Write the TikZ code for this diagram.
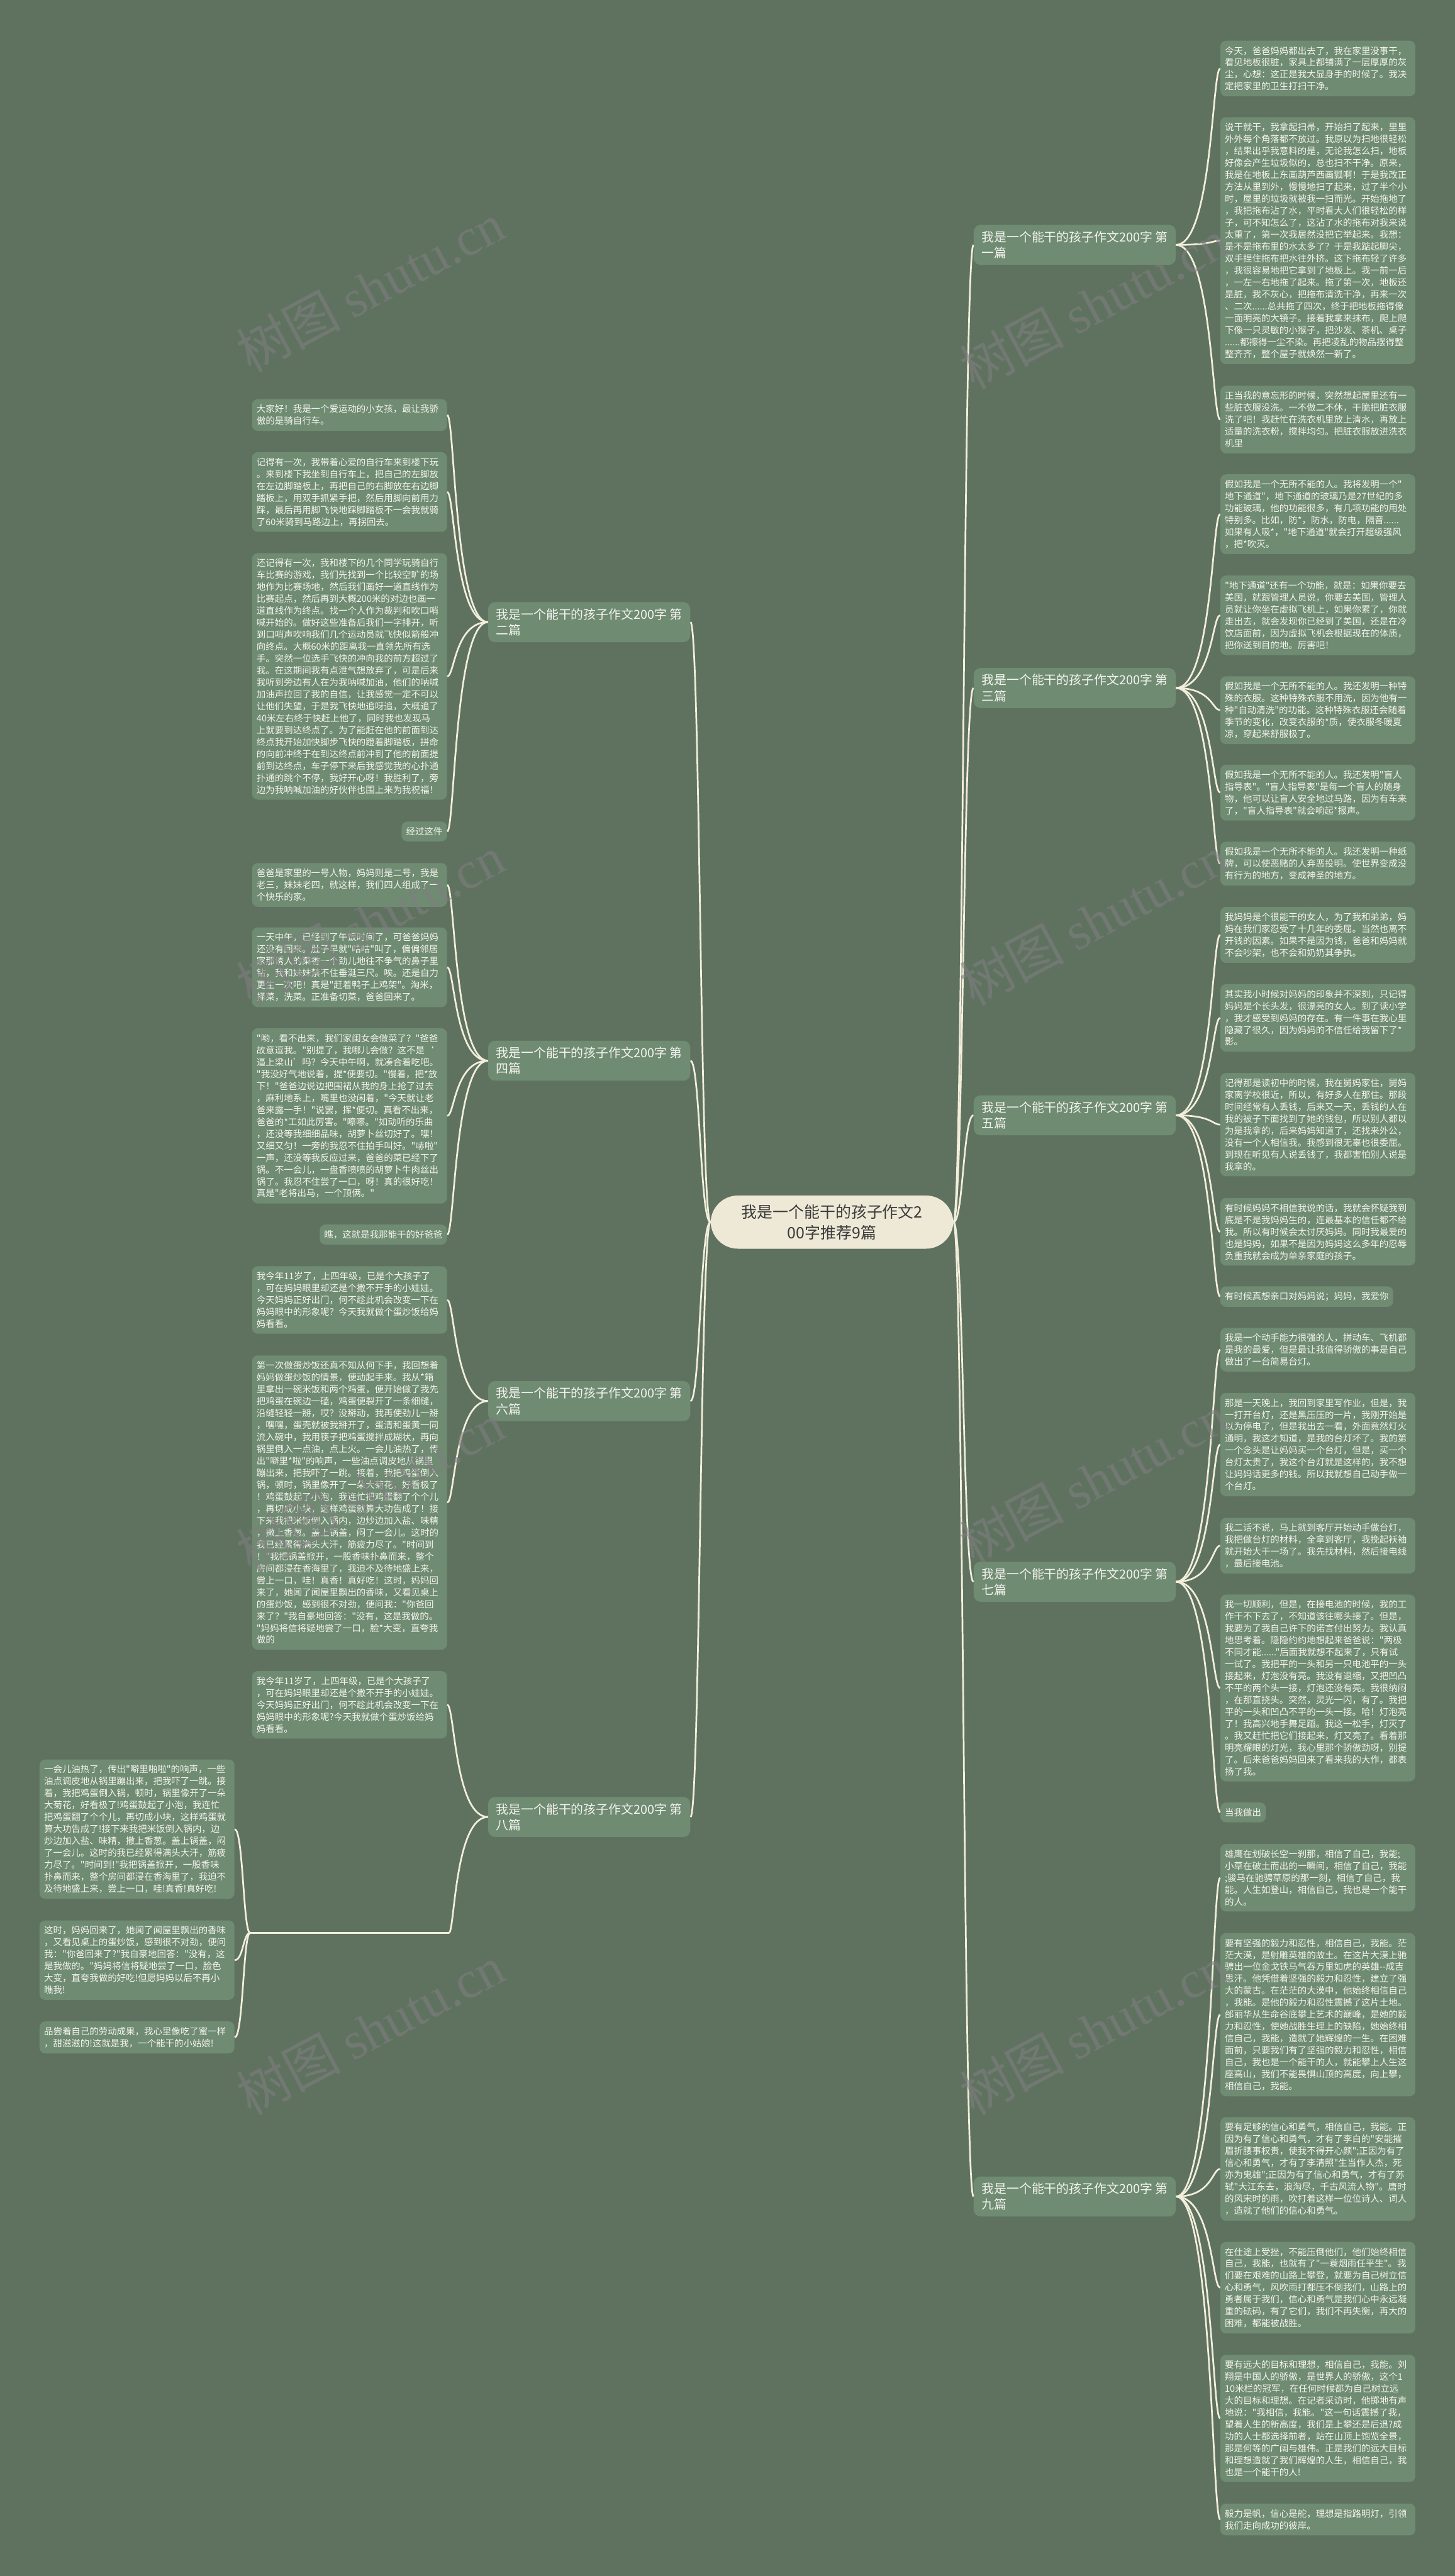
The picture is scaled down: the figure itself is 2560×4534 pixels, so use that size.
\documentclass[tikz,border=0pt]{standalone}
\usepackage{fontspec}
\newfontfamily\cjk{Noto Sans CJK SC}
\newfontfamily\wmlat{Liberation Serif}
\definecolor{bgc}{HTML}{5F7260}
\definecolor{leafc}{HTML}{6F8B72}
\definecolor{txtc}{HTML}{F4F4EE}
\definecolor{linec}{HTML}{F2EEDB}
\definecolor{rootc}{HTML}{EEE9D6}
\definecolor{roottxt}{HTML}{3A3A3A}
\definecolor{wmc}{HTML}{7E7E7E}
\newcommand\leaffont{\cjk\fontsize{8pt}{10.5pt}\selectfont}
\newcommand\branchfont{\cjk\fontsize{11pt}{14pt}\selectfont}
\newcommand\rootfont{\cjk\fontsize{13.8pt}{18pt}\selectfont}
\begin{document}
\begin{tikzpicture}[x=0.5pt,y=-0.5pt,
  leafR/.style={fill=leafc, rounded corners=5pt, text=txtc, font=\leaffont, align=left, text width=163.5pt, inner xsep=4pt, inner ysep=5pt, anchor=west},
  leafL/.style={leafR, anchor=east},
  tagR/.style={fill=leafc, rounded corners=5pt, text=txtc, font=\leaffont, inner xsep=4pt, inner ysep=5pt, anchor=west},
  tagL/.style={tagR, anchor=east},
  branchR/.style={fill=leafc, rounded corners=6pt, text=txtc, font=\branchfont, align=left, inner xsep=7pt, inner ysep=5.5pt, anchor=west},
  branchL/.style={branchR, anchor=east},
  rootnode/.style={fill=rootc, rounded corners=24pt, text=roottxt, font=\rootfont, align=center, inner xsep=27pt, inner ysep=8pt},
  conn/.style={draw=linec, line width=1.5pt},
  wm/.style={text=wmc, opacity=0.6, rotate=28, font=\cjk\fontsize{46pt}{50pt}\selectfont}
]
\useasboundingbox (0,0) rectangle (2560,4534);
\fill[bgc] (0,0) rectangle (2560,4534);

% helper coordinates for connector bends
\coordinate (rx) at (2133,0);
\coordinate (lx) at (800,0);
\coordinate (llx) at (428,0);
\coordinate (crx) at (1695,0);
\coordinate (clx) at (1232,0);

% root
\node[rootnode] (root) at (1464,2151) {我是一个能干的孩子作文2\\00字推荐9篇};

% branches
\node[branchR] (b1) at (1713,431) {我是一个能干的孩子作文200字 第\\一篇};
\node[branchR] (b3) at (1713,1211) {我是一个能干的孩子作文200字 第\\三篇};
\node[branchR] (b5) at (1713,1963) {我是一个能干的孩子作文200字 第\\五篇};
\node[branchR] (b7) at (1713,2784) {我是一个能干的孩子作文200字 第\\七篇};
\node[branchR] (b9) at (1713,3866) {我是一个能干的孩子作文200字 第\\九篇};
\node[branchL] (b2) at (1215,1095) {我是一个能干的孩子作文200字 第\\二篇};
\node[branchL] (b4) at (1215,1867) {我是一个能干的孩子作文200字 第\\四篇};
\node[branchL] (b6) at (1215,2466) {我是一个能干的孩子作文200字 第\\六篇};
\node[branchL] (b8) at (1215,3198) {我是一个能干的孩子作文200字 第\\八篇};

% ---------- 第一篇 ----------
\node[leafR] (r1a) at (2147,120.6) {今天，爸爸妈妈都出去了，我在家里没事干，\\看见地板很脏，家具上都铺满了一层厚厚的灰\\尘，心想：这正是我大显身手的时候了。我决\\定把家里的卫生打扫干净。};
\node[leafR] (r1b) at (2147,423.5) {说干就干，我拿起扫帚，开始扫了起来，里里\\外外每个角落都不放过。我原以为扫地很轻松\\，结果出乎我意料的是，无论我怎么扫，地板\\好像会产生垃圾似的，总也扫不干净。原来，\\我是在地板上东画葫芦西画瓢啊！于是我改正\\方法从里到外，慢慢地扫了起来，过了半个小\\时，屋里的垃圾就被我一扫而光。开始拖地了\\，我把拖布沾了水，平时看大人们很轻松的样\\子，可不知怎么了，这沾了水的拖布对我来说\\太重了，第一次我居然没把它举起来。我想：\\是不是拖布里的水太多了？于是我踮起脚尖，\\双手捏住拖布把水往外挤。这下拖布轻了许多\\，我很容易地把它拿到了地板上。我一前一后\\，一左一右地拖了起来。拖了第一次，地板还\\是脏，我不灰心，把拖布清洗干净，再来一次\\、二次......总共拖了四次，终于把地板拖得像\\一面明亮的大镜子。接着我拿来抹布，爬上爬\\下像一只灵敏的小猴子，把沙发、茶机、桌子\\......都擦得一尘不染。再把凌乱的物品摆得整\\整齐齐，整个屋子就焕然一新了。};
\node[leafR] (r1c) at (2147,738.5) {正当我的意忘形的时候，突然想起屋里还有一\\些脏衣服没洗。一不做二不休，干脆把脏衣服\\洗了吧！我赶忙在洗衣机里放上清水，再放上\\适量的洗衣粉，搅拌均匀。把脏衣服放进洗衣\\机里};

% ---------- 第三篇 ----------
\node[leafR] (r3a) at (2147,905) {假如我是一个无所不能的人。我将发明一个"\\地下通道"，地下通道的玻璃乃是27世纪的多\\功能玻璃，他的功能很多，有几项功能的用处\\特别多。比如，防*，防水，防电，隔音......\\如果有人吸*，"地下通道"就会打开超级强风\\，把*吹灭。};
\node[leafR] (r3b) at (2147,1083) {"地下通道"还有一个功能，就是：如果你要去\\美国，就跟管理人员说，你要去美国，管理人\\员就让你坐在虚拟飞机上，如果你累了，你就\\走出去，就会发现你已经到了美国，还是在冷\\饮店面前，因为虚拟飞机会根据现在的体质，\\把你送到目的地。厉害吧！};
\node[leafR] (r3c) at (2147,1250) {假如我是一个无所不能的人。我还发明一种特\\殊的衣服。这种特殊衣服不用洗，因为他有一\\种"自动清洗"的功能。这种特殊衣服还会随着\\季节的变化，改变衣服的*质，使衣服冬暖夏\\凉，穿起来舒服极了。};
\node[leafR] (r3d) at (2147,1395) {假如我是一个无所不能的人。我还发明"盲人\\指导表"。"盲人指导表"是每一个盲人的随身\\物，他可以让盲人安全地过马路，因为有车来\\了，"盲人指导表"就会响起*报声。};
\node[leafR] (r3e) at (2147,1520) {假如我是一个无所不能的人。我还发明一种纸\\牌，可以使恶赌的人弃恶投明。使世界变成没\\有行为的地方，变成神圣的地方。};

% ---------- 第五篇 ----------
\node[leafR] (r5a) at (2147,1645.5) {我妈妈是个很能干的女人，为了我和弟弟，妈\\妈在我们家忍受了十几年的委屈。当然也离不\\开钱的因素。如果不是因为钱，爸爸和妈妈就\\不会吵架，也不会和奶奶其争执。};
\node[leafR] (r5b) at (2147,1791.5) {其实我小时候对妈妈的印象并不深刻，只记得\\妈妈是个长头发，很漂亮的女人。到了读小学\\，我才感受到妈妈的存在。有一件事在我心里\\隐藏了很久，因为妈妈的不信任给我留下了*\\影。};
\node[leafR] (r5c) at (2147,1979.5) {记得那是读初中的时候，我在舅妈家住，舅妈\\家离学校很近，所以，有好多人在那住。那段\\时间经常有人丢钱，后来又一天，丢钱的人在\\我的被子下面找到了她的钱包，所以别人都以\\为是我拿的，后来妈妈知道了，还找来外公，\\没有一个人相信我。我感到很无辜也很委屈。\\到现在听见有人说丢钱了，我都害怕别人说是\\我拿的。};
\node[leafR] (r5d) at (2147,2168) {有时候妈妈不相信我说的话，我就会怀疑我到\\底是不是我妈妈生的，连最基本的信任都不给\\我。所以有时候会太讨厌妈妈。同时我最爱的\\也是妈妈，如果不是因为妈妈这么多年的忍辱\\负重我就会成为单亲家庭的孩子。};
\node[tagR] (r5e) at (2147,2282) {有时候真想亲口对妈妈说；妈妈，我爱你};

% ---------- 第七篇 ----------
\node[leafR] (r7a) at (2147,2375.5) {我是一个动手能力很强的人，拼动车、飞机都\\是我的最爱，但是最让我值得骄傲的事是自己\\做出了一台简易台灯。};
\node[leafR] (r7b) at (2147,2542.5) {那是一天晚上，我回到家里写作业，但是，我\\一打开台灯，还是黑压压的一片，我刚开始是\\以为停电了，但是我出去一看，外面竟然灯火\\通明，我这才知道，是我的台灯坏了。我的第\\一个念头是让妈妈买一个台灯，但是，买一个\\台灯太贵了，我这个台灯就是这样的，我不想\\让妈妈话更多的钱。所以我就想自己动手做一\\个台灯。};
\node[leafR] (r7c) at (2147,2720.5) {我二话不说，马上就到客厅开始动手做台灯，\\我把做台灯的材料，全拿到客厅，我挽起袄袖\\就开始大干一场了。我先找材料，然后接电线\\，最后接电池。};
\node[leafR] (r7d) at (2147,2971) {我一切顺利，但是，在接电池的时候，我的工\\作干不下去了，不知道该往哪头接了。但是，\\我要为了我自己许下的诺言付出努力。我认真\\地思考着。隐隐约约地想起来爸爸说："两极\\不同才能......"后面我就想不起来了，只有试\\一试了。我把平的一头和另一只电池平的一头\\接起来，灯泡没有亮。我没有退缩，又把凹凸\\不平的两个头一接，灯泡还没有亮。我很纳闷\\，在那直挠头。突然，灵光一闪，有了。我把\\平的一头和凹凸不平的一头一接。哈！灯泡亮\\了！我高兴地手舞足蹈。我这一松手，灯灭了\\。我又赶忙把它们接起来，灯又亮了。看着那\\明亮耀眼的灯光，我心里那个骄傲劲呀，别提\\了。后来爸爸妈妈回来了看来我的大作，都表\\扬了我。};
\node[tagR] (r7e) at (2147,3190) {当我做出};

% ---------- 第九篇 ----------
\node[leafR] (r9a) at (2147,3305) {雄鹰在划破长空一刹那，相信了自己，我能;\\小草在破土而出的一瞬间，相信了自己，我能\\;骏马在驰骋草原的那一刻，相信了自己，我\\能。人生如登山，相信自己，我也是一个能干\\的人。};
\node[leafR] (r9b) at (2147,3546) {要有坚强的毅力和忍性，相信自己，我能。茫\\茫大漠，是射雕英雄的故土。在这片大漠上驰\\骋出一位金戈铁马气吞万里如虎的英雄-{}-成吉\\思汗。他凭借着坚强的毅力和忍性，建立了强\\大的蒙古。在茫茫的大漠中，他始终相信自己\\，我能。是他的毅力和忍性震撼了这片土地。\\邰丽华从生命谷底攀上艺术的巅峰，是她的毅\\力和忍性，使她战胜生理上的缺陷，她始终相\\信自己，我能，造就了她辉煌的一生。在困难\\面前，只要我们有了坚强的毅力和忍性，相信\\自己，我也是一个能干的人，就能攀上人生这\\座高山，我们不能畏惧山顶的高度，向上攀，\\相信自己，我能。};
\node[leafR] (r9c) at (2147,3817.5) {要有足够的信心和勇气，相信自己，我能。正\\因为有了信心和勇气，才有了李白的"安能摧\\眉折腰事权贵，使我不得开心颜";正因为有了\\信心和勇气，才有了李清照"生当作人杰，死\\亦为鬼雄";正因为有了信心和勇气，才有了苏\\轼"大江东去，浪淘尽，千古风流人物"。唐时\\的风宋时的雨，吹打着这样一位位诗人、词人\\，造就了他们的信心和勇气。};
\node[leafR] (r9d) at (2147,4026.5) {在仕途上受挫，不能压倒他们，他们始终相信\\自己，我能，也就有了"一蓑烟雨任平生"。我\\们要在艰难的山路上攀登，就要为自己树立信\\心和勇气，风吹雨打都压不倒我们，山路上的\\勇者属于我们，信心和勇气是我们心中永远凝\\重的砝码，有了它们，我们不再失衡，再大的\\困难，都能被战胜。};
\node[leafR] (r9e) at (2147,4256.5) {要有远大的目标和理想，相信自己，我能。刘\\翔是中国人的骄傲，是世界人的骄傲，这个1\\10米栏的冠军，在任何时候都为自己树立远\\大的目标和理想。在记者采访时，他掷地有声\\地说："我相信，我能。"这一句话震撼了我，\\望着人生的新高度，我们是上攀还是后退?成\\功的人士都选择前者，站在山顶上饱览全景，\\那是何等的广阔与雄伟。正是我们的远大目标\\和理想造就了我们辉煌的人生，相信自己，我\\也是一个能干的人!};
\node[leafR] (r9f) at (2147,4434.5) {毅力是帆，信心是舵，理想是指路明灯，引领\\我们走向成功的彼岸。};

% ---------- 第二篇 ----------
\node[leafL] (l2a) at (787,730.5) {大家好！我是一个爱运动的小女孩，最让我骄\\傲的是骑自行车。};
\node[leafL] (l2b) at (787,866) {记得有一次，我带着心爱的自行车来到楼下玩\\。来到楼下我坐到自行车上，把自己的左脚放\\在左边脚踏板上，再把自己的右脚放在右边脚\\踏板上，用双手抓紧手把，然后用脚向前用力\\踩，最后再用脚飞快地踩脚踏板不一会我就骑\\了60米骑到马路边上，再拐回去。};
\node[leafL] (l2c) at (787,1190.5) {还记得有一次，我和楼下的几个同学玩骑自行\\车比赛的游戏，我们先找到一个比较空旷的场\\地作为比赛场地，然后我们画好一道直线作为\\比赛起点，然后再到大概200米的对边也画一\\道直线作为终点。找一个人作为裁判和吹口哨\\喊开始的。做好这些准备后我们一字排开，听\\到口哨声吹响我们几个运动员就飞快似箭般冲\\向终点。大概60米的距离我一直领先所有选\\手。突然一位选手飞快的冲向我的前方超过了\\我。在这期间我有点泄气想放弃了，可是后来\\我听到旁边有人在为我呐喊加油，他们的呐喊\\加油声拉回了我的自信，让我感觉一定不可以\\让他们失望，于是我飞快地追呀追，大概追了\\40米左右终于快赶上他了，同时我也发现马\\上就要到达终点了。为了能赶在他的前面到达\\终点我开始加快脚步飞快的蹬着脚踏板，拼命\\的向前冲终于在到达终点前冲到了他的前面提\\前到达终点，车子停下来后我感觉我的心扑通\\扑通的跳个不停，我好开心呀！我胜利了，旁\\边为我呐喊加油的好伙伴也围上来为我祝福！};
\node[tagL] (l2d) at (787,1463.5) {经过这件};

% ---------- 第四篇 ----------
\node[leafL] (l4a) at (787,1557.5) {爸爸是家里的一号人物，妈妈则是二号，我是\\老三，妹妹老四，就这样，我们四人组成了一\\个快乐的家。};
\node[leafL] (l4b) at (787,1702.5) {一天中午，已经到了午饭时间了，可爸爸妈妈\\还没有回来。肚子早就"咕咕"叫了，偏偏邻居\\家那诱人的菜香一个劲儿地往不争气的鼻子里\\钻，我和妹妹禁不住垂涎三尺。唉。还是自力\\更生一次吧！真是"赶着鸭子上鸡架"。淘米，\\择菜，洗菜。正准备切菜，爸爸回来了。};
\node[leafL] (l4c) at (787,1964) {"哟，看不出来，我们家闺女会做菜了？"爸爸\\故意逗我。"别提了，我哪儿会做？这不是‘\\逼上梁山’吗？今天中午啊，就凑合着吃吧。\\"我没好气地说着，提*便要切。"慢着，把*放\\下！"爸爸边说边把围裙从我的身上抢了过去\\，麻利地系上，嘴里也没闲着，"今天就让老\\爸来露一手！"说罢，挥*便切。真看不出来，\\爸爸的*工如此厉害。"嚓嚓。"如动听的乐曲\\，还没等我细细品味，胡萝卜丝切好了。嘿！\\又细又匀！一旁的我忍不住拍手叫好。"哧啦"\\一声，还没等我反应过来，爸爸的菜已经下了\\锅。不一会儿，一盘香喷喷的胡萝卜牛肉丝出\\锅了。我忍不住尝了一口，呀！真的很好吃！\\真是"老将出马，一个顶俩。"};
\node[tagL] (l4d) at (787,2173) {瞧，这就是我那能干的好爸爸};

% ---------- 第六篇 ----------
\node[leafL] (l6a) at (787,2288) {我今年11岁了，上四年级，已是个大孩子了\\，可在妈妈眼里却还是个撒不开手的小娃娃。\\今天妈妈正好出门，何不趁此机会改变一下在\\妈妈眼中的形象呢？今天我就做个蛋炒饭给妈\\妈看看。};
\node[leafL] (l6b) at (787,2644.75) {第一次做蛋炒饭还真不知从何下手，我回想着\\妈妈做蛋炒饭的情景，便动起手来。我从*箱\\里拿出一碗米饭和两个鸡蛋，便开始做了我先\\把鸡蛋在碗边一磕，鸡蛋便裂开了一条细缝，\\沿缝轻轻一掰，哎？没掰动，我再使劲儿一掰\\，嘿嘿，蛋壳就被我掰开了，蛋清和蛋黄一同\\流入碗中，我用筷子把鸡蛋搅拌成糊状，再向\\锅里倒入一点油，点上火。一会儿油热了，传\\出"噼里*啦"的响声，一些油点调皮地从锅里\\蹦出来，把我吓了一跳。接着，我把鸡蛋倒入\\锅，顿时，锅里像开了一朵大菊花，好看极了\\！鸡蛋鼓起了小泡，我连忙把鸡蛋翻了个个儿\\，再切成小块，这样鸡蛋就算大功告成了！接\\下来我把米饭倒入锅内，边炒边加入盐、味精\\，撒上香葱。盖上锅盖，闷了一会儿。这时的\\我已经累得满头大汗，筋疲力尽了。"时间到\\！"我把锅盖掀开，一股香味扑鼻而来，整个\\房间都浸在香海里了，我迫不及待地盛上来，\\尝上一口，哇！真香！真好吃！这时，妈妈回\\来了，她闻了闻屋里飘出的香味，又看见桌上\\的蛋炒饭，感到很不对劲，便问我："你爸回\\来了？"我自豪地回答："没有，这是我做的。\\"妈妈将信将疑地尝了一口，脸*大变，直夸我\\做的};

% ---------- 第八篇 ----------
\node[leafL] (l8a) at (787,3000.5) {我今年11岁了，上四年级，已是个大孩子了\\，可在妈妈眼里却还是个撒不开手的小娃娃。\\今天妈妈正好出门，何不趁此机会改变一下在\\妈妈眼中的形象呢?今天我就做个蛋炒饭给妈\\妈看看。};
\coordinate (h8r) at (790,3402);
\coordinate (h8l) at (440,3402);
\node[leafL] (l8b) at (413,3219.5) {一会儿油热了，传出"噼里啪啦"的响声，一些\\油点调皮地从锅里蹦出来，把我吓了一跳。接\\着，我把鸡蛋倒入锅，顿时，锅里像开了一朵\\大菊花，好看极了!鸡蛋鼓起了小泡，我连忙\\把鸡蛋翻了个个儿，再切成小块，这样鸡蛋就\\算大功告成了!接下来我把米饭倒入锅内，边\\炒边加入盐、味精，撒上香葱。盖上锅盖，闷\\了一会儿。这时的我已经累得满头大汗，筋疲\\力尽了。"时间到!"我把锅盖掀开，一股香味\\扑鼻而来，整个房间都浸在香海里了，我迫不\\及待地盛上来，尝上一口，哇!真香!真好吃!};
\node[leafL] (l8c) at (413,3450) {这时，妈妈回来了，她闻了闻屋里飘出的香味\\，又看见桌上的蛋炒饭，感到很不对劲，便问\\我："你爸回来了?"我自豪地回答："没有，这\\是我做的。"妈妈将信将疑地尝了一口，脸色\\大变，直夸我做的好吃!但愿妈妈以后不再小\\瞧我!};
\node[leafL] (l8d) at (413,3586) {品尝着自己的劳动成果，我心里像吃了蜜一样\\，甜滋滋的!这就是我，一个能干的小姑娘!};

% ---------- connectors: root to branches ----------
\foreach \b in {b1,b3,b5,b7,b9}
  \draw[conn] (root.east) .. controls (root.east -| crx) and (\b.west -| crx) .. (\b.west);
\foreach \b in {b2,b4,b6,b8}
  \draw[conn] (root.west) .. controls (root.west -| clx) and (\b.east -| clx) .. (\b.east);

% ---------- connectors: branches to leaves ----------
\foreach \b/\l in {b1/r1a,b1/r1b,b1/r1c,b3/r3a,b3/r3b,b3/r3c,b3/r3d,b3/r3e,b5/r5a,b5/r5b,b5/r5c,b5/r5d,b5/r5e,b7/r7a,b7/r7b,b7/r7c,b7/r7d,b7/r7e,b9/r9a,b9/r9b,b9/r9c,b9/r9d,b9/r9e,b9/r9f}
  \draw[conn] (\b.east) .. controls (\b.east -| rx) and (\l.west -| rx) .. (\l.west);
\foreach \b/\l in {b2/l2a,b2/l2b,b2/l2c,b2/l2d,b4/l4a,b4/l4b,b4/l4c,b4/l4d,b6/l6a,b6/l6b,b8/l8a}
  \draw[conn] (\b.west) .. controls (\b.west -| lx) and (\l.east -| lx) .. (\l.east);
\draw[conn] (b8.west) .. controls (b8.west -| lx) and (h8r -| lx) .. (h8r);
\draw[conn] (h8r) -- (h8l);
\foreach \l in {l8b,l8c,l8d}
  \draw[conn] (h8l) .. controls (h8l -| llx) and (\l.east -| llx) .. (\l.east);

% ---------- watermarks ----------
\foreach \p in {(651,506),(1924,535),(651,1620),(1924,1620),(651,2618),(1924,2604),(651,3573),(1924,3573)}
  \node[wm] at \p {树图 {\wmlat shutu.cn}};
\end{tikzpicture}
\end{document}
